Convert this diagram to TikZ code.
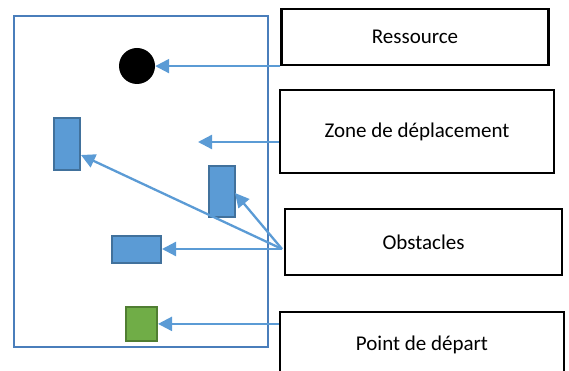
\documentclass[tikz,border=0pt]{standalone}
\usepackage{fontspec}
\setmainfont{Carlito}
\usetikzlibrary{arrows.meta,calc}
\definecolor{frameblue}{HTML}{4A7EBB}
\definecolor{obsfill}{HTML}{5B9BD5}
\definecolor{obsdraw}{HTML}{41719C}
\definecolor{arrowblue}{HTML}{5B9BD5}
\definecolor{grnfill}{HTML}{70AD47}
\definecolor{grndraw}{HTML}{507E32}
\begin{document}
\begin{tikzpicture}[x=1pt,y=-1pt,
  labelbox/.style={draw=black,line width=2.2pt,rectangle,inner sep=0pt,font=\fontsize{21}{25}\selectfont},
  obstacle/.style={draw=obsdraw,fill=obsfill,line width=2pt,rectangle,inner sep=0pt},
  startsq/.style={draw=grndraw,fill=grnfill,line width=2pt,rectangle,inner sep=0pt},
  pointer/.style={draw=arrowblue,line width=2.3pt,-{Triangle[length=14pt,width=14pt]}}]
\useasboundingbox (0,0) rectangle (569,371);
\clip (0,0) rectangle (569,371);
% frame
\node[draw=frameblue,line width=2.6pt,rectangle,inner sep=0pt,minimum width=254pt,minimum height=331pt] (zone) at (141,181.5) {};
% items
\node[circle,fill=black,inner sep=0pt,minimum size=36pt] (res) at (137,66) {};
\node[obstacle,minimum width=26pt,minimum height=52pt] (o1) at (67,144) {};
\node[obstacle,minimum width=26pt,minimum height=51pt] (o2) at (222,191.5) {};
\node[obstacle,minimum width=49pt,minimum height=27pt] (o3) at (136.5,249.5) {};
\node[startsq,minimum width=31pt,minimum height=34pt] (start) at (141.5,324) {};
% label boxes
\node[labelbox,minimum width=267pt,minimum height=56pt] (lres) at (415,37) {Ressource};
\node[labelbox,minimum width=274pt,minimum height=83pt] (lzone) at (417,131.5) {Zone de déplacement};
\node[labelbox,minimum width=277pt,minimum height=66pt] (lobs) at (423.5,242) {Obstacles};
\node[labelbox,minimum width=284pt,minimum height=68pt] (lstart) at (422,346) {};
\node[font=\fontsize{21}{25}\selectfont] (tstart) at (422,345) {Point de départ};
% connectors
\coordinate (zonetip) at (198,142);
\coordinate (obsfrom) at (282,249);
\coordinate (o1tip) at (81,155);
\coordinate (o2tip) at (235,193);
\draw[pointer] (lres.south west) -- (res.east |- lres.south west);
\draw[pointer] (lzone.west |- zonetip) -- (zonetip);
\draw[pointer] (obsfrom) -- (o1tip);
\draw[pointer] (obsfrom) -- (o2tip);
\draw[pointer] (obsfrom) -- (o3.east |- obsfrom);
\draw[pointer] ($(lstart.north west)+(0,13)$) -- (start.east |- {$(lstart.north west)+(0,13)$});
\end{tikzpicture}
\end{document}
